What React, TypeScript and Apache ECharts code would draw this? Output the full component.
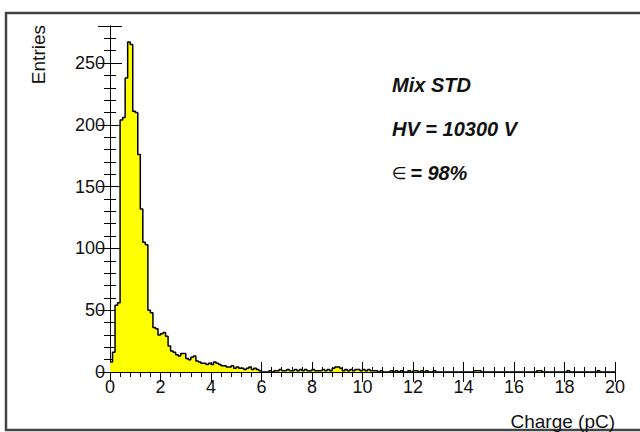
import React, { useEffect, useRef } from "react";
import * as echarts from "echarts";

// Histogram: 200 bins of 0.1 pC from 0 to 20 pC
const binWidth = 0.1;
const countsA = [
  8, 16, 54, 56, 204, 206, 238, 267, 265, 211,
  210, 176, 132, 105, 103, 50, 48, 36, 35, 30,
  31, 32, 29, 21, 17, 16, 14, 13, 15, 15,
  11, 10, 12, 13, 9, 8, 7, 7, 6, 7,
  6, 8, 7, 6, 5, 5, 4, 4, 5, 3,
];
const countsB = [
  4, 3, 3, 2, 3, 4, 2, 3, 2, 1,
  0, 0, 0, 1, 0, 1, 1, 2, 1, 1,
  2, 1, 1, 2, 1, 2, 1, 2, 1, 1,
  2, 1, 1, 1, 2, 1, 2, 1, 3, 4,
  4, 3, 1, 2, 1, 2, 1, 2, 2, 1,
];
const countsC = [
  2, 1, 2, 1, 1, 1, 0, 1, 0, 0,
  0, 1, 0, 1, 0, 1, 0, 0, 1, 0,
  1, 1, 0, 1, 0, 1, 0, 0, 1, 0,
  0, 0, 0, 0, 0, 0, 0, 0, 0, 0,
  0, 0, 0, 0, 1, 1, 1, 0, 0, 0,
];
const countsD = [
  0, 0, 0, 0, 0, 0, 0, 0, 0, 0,
  0, 0, 0, 0, 0, 0, 0, 0, 0, 1,
  1, 0, 0, 0, 0, 0, 0, 0, 0, 0,
  0, 1, 0, 0, 0, 0, 0, 0, 0, 0,
  0, 0, 0, 1, 0, 0, 0, 0, 0, 0,
];
const xRange = [0, 20];
const yRange = [0, 280];
const annotations = ["Mix STD", "HV = 10300 V"];
const epsLabel = "= 98%";

export default function App() {
  const ref = useRef<HTMLDivElement>(null);
  useEffect(() => {
    if (!ref.current) return;
    const chart = echarts.init(ref.current, null, { renderer: "svg" });
    const counts = [...countsA, ...countsB, ...countsC, ...countsD];
    const data: number[][] = counts.map((c, i) => [Math.round(i * binWidth * 10) / 10, c]);
    data.push([xRange[1], counts[counts.length - 1]]);
    const font = "'Liberation Sans', Arial, sans-serif";
    const xCommon = {
      type: "value" as const,
      min: xRange[0],
      max: xRange[1],
      interval: 2,
      axisLine: { show: true, lineStyle: { color: "#000", width: 1 } },
      splitLine: { show: false },
      axisTick: { show: true, inside: true, length: 10, lineStyle: { color: "#000" } },
      minorTick: { show: true, splitNumber: 5, length: 5, lineStyle: { color: "#000" } },
    };
    const yCommon = {
      type: "value" as const,
      min: yRange[0],
      max: yRange[1],
      interval: 50,
      axisLine: { show: true, lineStyle: { color: "#000", width: 1 } },
      splitLine: { show: false },
      axisTick: { show: true, inside: true, length: 12, lineStyle: { color: "#000" } },
      minorTick: { show: true, splitNumber: 5, length: 6, lineStyle: { color: "#000" } },
    };
    const bi = { fontWeight: "bold", fontStyle: "italic", fontFamily: font, fill: "#111" };
    chart.setOption({
      animation: false,
      backgroundColor: "#fff",
      grid: { left: 110, right: 25, top: 26, bottom: 60, show: false },
      xAxis: [
        {
          ...xCommon,
          position: "bottom",
          axisLabel: { show: true, margin: 6, fontSize: 18, color: "#111", fontFamily: font },
        },
        { ...xCommon, position: "top", axisLabel: { show: false } },
      ],
      yAxis: [
        {
          ...yCommon,
          position: "left",
          axisLabel: {
            show: true,
            margin: 5,
            fontSize: 18,
            color: "#111",
            fontFamily: font,
            formatter: (v: number) => (v % 50 === 0 ? String(v) : ""),
          },
        },
        { ...yCommon, position: "right", axisLabel: { show: false } },
      ],
      series: [
        {
          type: "line",
          step: "end",
          data,
          symbol: "none",
          lineStyle: { color: "#000", width: 1.5 },
          areaStyle: { color: "#ffff00", opacity: 1, origin: "start" },
          z: 1,
        },
      ],
      graphic: [
        {
          type: "rect",
          shape: { x: 6, y: 13, width: 650, height: 417 },
          style: { fill: "none", stroke: "#444", lineWidth: 2.5 },
          silent: true,
        },
        {
          type: "text",
          x: 38,
          y: 25,
          rotation: Math.PI / 2,
          style: {
            text: "Entries",
            fontSize: 19,
            fontFamily: font,
            fill: "#111",
            align: "right",
            verticalAlign: "middle",
          },
        },
        {
          type: "text",
          x: 615,
          y: 421,
          style: {
            text: "Charge (pC)",
            fontSize: 19,
            fontFamily: font,
            fill: "#111",
            align: "right",
            verticalAlign: "middle",
          },
        },
        {
          type: "text",
          x: 392,
          y: 85,
          style: { text: annotations[0], fontSize: 20, ...bi, verticalAlign: "middle" },
        },
        {
          type: "text",
          x: 392,
          y: 129,
          style: { text: annotations[1], fontSize: 20, ...bi, verticalAlign: "middle" },
        },
        {
          type: "text",
          x: 392,
          y: 173,
          style: {
            text: "{e|\u2208} {v|" + epsLabel + "}",
            verticalAlign: "middle",
            rich: {
              e: { fontSize: 17, fontFamily: "'DejaVu Sans', sans-serif", fill: "#111" },
              v: { fontSize: 20, ...bi },
            },
          },
        },
      ],
    });
    return () => chart.dispose();
  }, []);
  return (
    <div
      ref={ref}
      style={{ position: "fixed", left: 0, top: 0, width: 640, height: 432 }}
    />
  );
}
